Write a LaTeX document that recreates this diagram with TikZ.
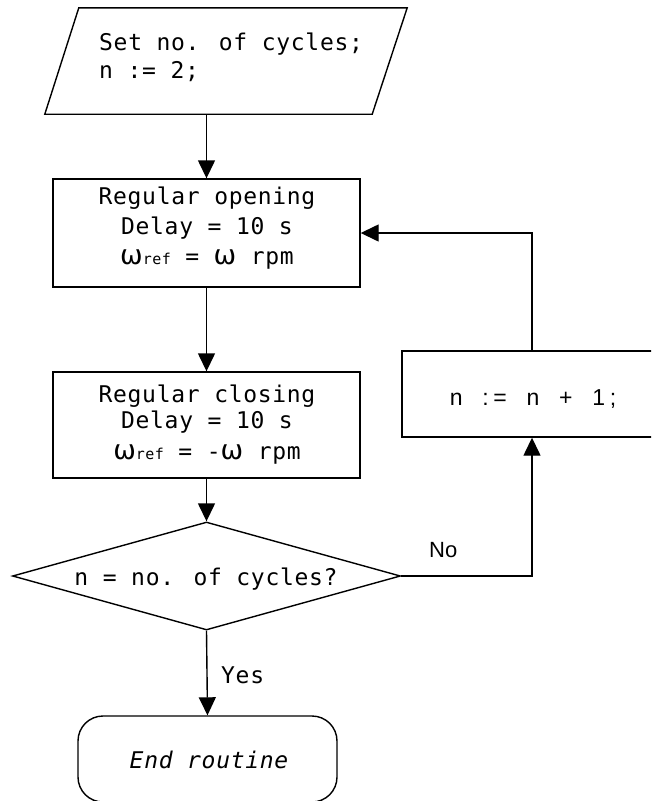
\documentclass[tikz,border=0pt]{standalone}
\usepackage{fontspec}
\usetikzlibrary{arrows.meta,shapes.geometric,calc}
\newfontfamily\flowmono[LetterSpace=3]{DejaVu Sans Mono}
\newfontfamily\flowsans[LetterSpace=20,WordSpace=1.8]{Liberation Sans}
\newfontfamily\labelsans{Liberation Sans}
\newfontfamily\greekfont{DejaVu Sans}
\tikzset{
  line/.style={line width=1.4pt, draw=black},
  arr/.style={line, -{Triangle[width=17pt,length=18pt]}},
  box/.style={line, rectangle, inner sep=0pt},
  txt/.style={anchor=base, inner sep=0pt, font=\fontsize{23}{27}\selectfont\flowmono},
}
\newcommand{\omegaref}{{\fontsize{27}{27}\selectfont\greekfont ω}{\fontsize{15}{15}\selectfont ref}}
\newcommand{\omegasym}{{\fontsize{27}{27}\selectfont\greekfont ω}}
\begin{document}
\begin{tikzpicture}[x=1pt, y=-1pt]
  \useasboundingbox (0,0) rectangle (651,801);
  \clip (0,0) rectangle (651,801);

  % input block: frame node plus slanted outline
  \node[rectangle, minimum width=362pt, minimum height=106pt, inner sep=0pt] (setup) at (226,61) {};
  \draw[line, line join=miter]
    ($(setup.north west)+(34,0)$) -- (setup.north east)
    -- ($(setup.south east)-(35,0)$) -- (setup.south west) -- cycle;
  \node[txt, anchor=base west] (setuptxt) at (99,50) {Set no. of cycles;};
  \node[txt, anchor=base west] (setuptxt2) at (99,78) {n := 2;};

  % opening
  \node[box, minimum width=307pt, minimum height=108pt] (open) at (206.5,233) {};
  \node[txt] (open1) at (207,204) {Regular opening};
  \node[txt] (open2) at (207,234) {Delay = 10 s};
  \node[txt] (open3) at (207,264) {\omegaref{} = \omegasym{} rpm};

  % closing
  \node[box, minimum width=307pt, minimum height=106pt] (close) at (206.5,425) {};
  \node[txt] (close1) at (207,402) {Regular closing};
  \node[txt] (close2) at (207,428) {Delay = 10 s};
  \node[txt] (close3) at (207,459) {\omegaref{} = -\omegasym{} rpm};

  % decision
  \node[line, diamond, aspect=3.6, minimum width=388pt, minimum height=108pt,
        inner sep=0pt] (check) at (206.5,576) {};
  \node[txt] (checktxt) at (206,585) {n = no. of cycles?};

  % counter increment
  \node[box, minimum width=260pt, minimum height=86pt] (incr) at (532,394) {};
  \node[anchor=base, inner sep=0pt, font=\fontsize{23}{27}\selectfont\flowsans] (incrtxt) at (533,405) {n := n + 1;};

  % terminator
  \node[line, rectangle, rounded corners=25pt, minimum width=259pt, minimum height=86pt,
        inner sep=0pt] (finish) at (207.5,759) {};
  \node[txt] (finishtxt) at (209,768) {\itshape End routine};

  % connectors
  \draw[arr] (setup.south -| open.north) -- (open.north);
  \draw[arr] (open.south) -- (close.north);
  \draw[arr] (close.south) -- (check.north);
  \draw[arr] (check.south) -- (finish.north);
  \node[txt, anchor=base west] (yeslbl) at (221,683) {Yes};
  \draw[arr] (check.east) -| (incr.south);
  \draw[arr] (incr.north) |- (open.east);
  \node[anchor=base west, inner sep=0pt, font=\fontsize{22}{26}\selectfont\labelsans] (nolbl) at (429,557) {No};
\end{tikzpicture}
\end{document}
